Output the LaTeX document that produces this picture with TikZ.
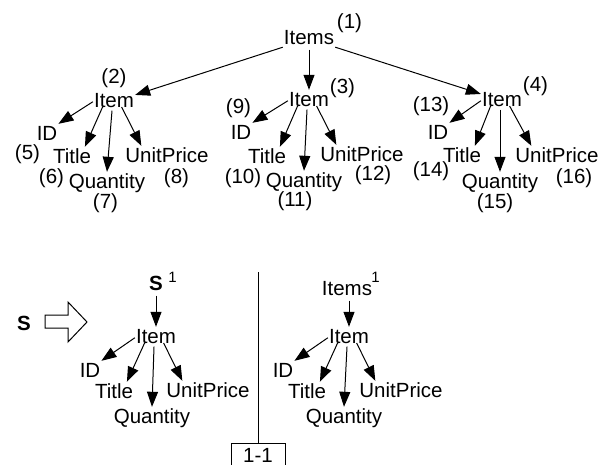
\documentclass[tikz,border=0pt]{standalone}
\usepackage{fontspec}
\setmainfont{Liberation Sans}
\usetikzlibrary{arrows.meta,calc}
\begin{document}
\begin{tikzpicture}[x=1pt,y=-1pt,
  every node/.style={inner sep=1pt, font=\fontsize{20.5}{24}\selectfont},
  lbl/.style={anchor=base, text height=15pt, text depth=4.5pt},
  num/.style={anchor=base, inner sep=0pt},
  supnum/.style={anchor=base, inner sep=0pt, font=\fontsize{15}{18}\selectfont},
  arr/.style={line width=1pt, -{Triangle[length=15pt,width=11pt]}},
  thin/.style={line width=1pt},
]
\useasboundingbox (0,0) rectangle (602,464);

% ---------- top tree ----------
\node[lbl] (root) at (309,44) {Items};
\node[num] (n1) at (349.5,28.7) {(1)};

\node[lbl] (i2) at (114,107) {Item};
\node[num] (n2) at (114,83) {(2)};
\node[lbl] (d2) at (47,140) {ID};
\node[num] (n5) at (27.5,159) {(5)};
\node[lbl] (t2) at (72,163) {Title};
\node[num] (n6) at (51.5,183) {(6)};
\node[lbl] (q2) at (107,188) {Quantity};
\node[num] (n7) at (105.5,208) {(7)};
\node[lbl] (u2) at (167,162) {UnitPrice};
\node[num] (n8) at (176.5,183) {(8)};

\node[lbl] (i3) at (309,106) {Item};
\node[num] (n3) at (342.5,93) {(3)};
\node[lbl] (d3) at (241,139) {ID};
\node[num] (n9) at (238.5,113) {(9)};
\node[lbl] (t3) at (267,163) {Title};
\node[num] (n10) at (243,183) {(10)};
\node[lbl] (q3) at (304,187) {Quantity};
\node[num] (n11) at (295,206) {(11)};
\node[lbl] (u3) at (362,161) {UnitPrice};
\node[num] (n12) at (373,180.5) {(12)};

\node[lbl] (i4) at (502,106) {Item};
\node[num] (n4) at (535.5,91) {(4)};
\node[lbl] (d4) at (438,139) {ID};
\node[num] (n13) at (431,111) {(13)};
\node[lbl] (t4) at (462,162) {Title};
\node[num] (n14) at (431,176) {(14)};
\node[lbl] (q4) at (500,188) {Quantity};
\node[num] (n15) at (495,208) {(15)};
\node[lbl] (u4) at (557,162) {UnitPrice};
\node[num] (n16) at (574,183) {(16)};

\draw[arr] (root) -- (i2);
\draw[arr] (root.south) -- (i3.north);
\draw[arr] (root) -- (i4);

\foreach \p/\d/\t/\q/\u in {i2/d2/t2/q2/u2, i3/d3/t3/q3/u3, i4/d4/t4/q4/u4}{
  \draw[arr] (\p.west) -- (\d.north east);
  \draw[arr] ($(\p.base west)!0.23!(\p.base east)$) -- ($(\t.north west)!0.82!(\t.north east)$);
  \draw[arr] ($(\p.south)+(-2,-2)$) -- (\q.north);
  \draw[arr] ($(\p.base west)!0.68!(\p.base east)$) -- ($(\u.north west)!0.2!(\u.north east)$);
}

% ---------- bottom left ----------
\node[lbl, font=\fontsize{20.5}{24}\selectfont\bfseries] (sl) at (24,330) {S};
\draw[thin] (45,315) -- (68,315) -- (68,302) -- (87,322) -- (68,342) -- (68,328) -- (45,328) -- cycle;

\node[lbl, font=\fontsize{20.5}{24}\selectfont\bfseries] (s1) at (156,290) {S};
\node[supnum] (s1sup) at (172.5,282) {1};
\node[lbl] (bi1) at (156,343) {Item};
\node[lbl] (bd1) at (90,377) {ID};
\node[lbl] (bt1) at (114,398) {Title};
\node[lbl] (bq1) at (152,423) {Quantity};
\node[lbl] (bu1) at (208,397) {UnitPrice};

% ---------- bottom right ----------
\node[lbl] (it1) at (347,295) {Items};
\node[supnum] (it1sup) at (375.5,282) {1};
\node[lbl] (bi2) at (349,343) {Item};
\node[lbl] (bd2) at (283,377) {ID};
\node[lbl] (bt2) at (307,398) {Title};
\node[lbl] (bq2) at (344,423) {Quantity};
\node[lbl] (bu2) at (401,397) {UnitPrice};

\draw[arr] (s1.south) -- (bi1.north);
\draw[arr] (it1.south -| bi2.north) -- (bi2.north);

\foreach \p/\d/\t/\q/\u in {bi1/bd1/bt1/bq1/bu1, bi2/bd2/bt2/bq2/bu2}{
  \draw[arr] (\p.west) -- (\d.north east);
  \draw[arr] ($(\p.base west)!0.23!(\p.base east)$) -- ($(\t.north west)!0.82!(\t.north east)$);
  \draw[arr] ($(\p.south)+(-2,-2)$) -- (\q.north);
  \draw[arr] ($(\p.base west)!0.68!(\p.base east)$) -- ($(\u.north west)!0.2!(\u.north east)$);
}

% ---------- divider and box ----------
\coordinate (vtop) at (258,272);
\node[draw, line width=1pt, minimum width=54pt, minimum height=24pt, inner sep=0pt, anchor=north] (box) at (258,443) {1-1};
\draw[thin] (vtop) -- (box.north);
\end{tikzpicture}
\end{document}
